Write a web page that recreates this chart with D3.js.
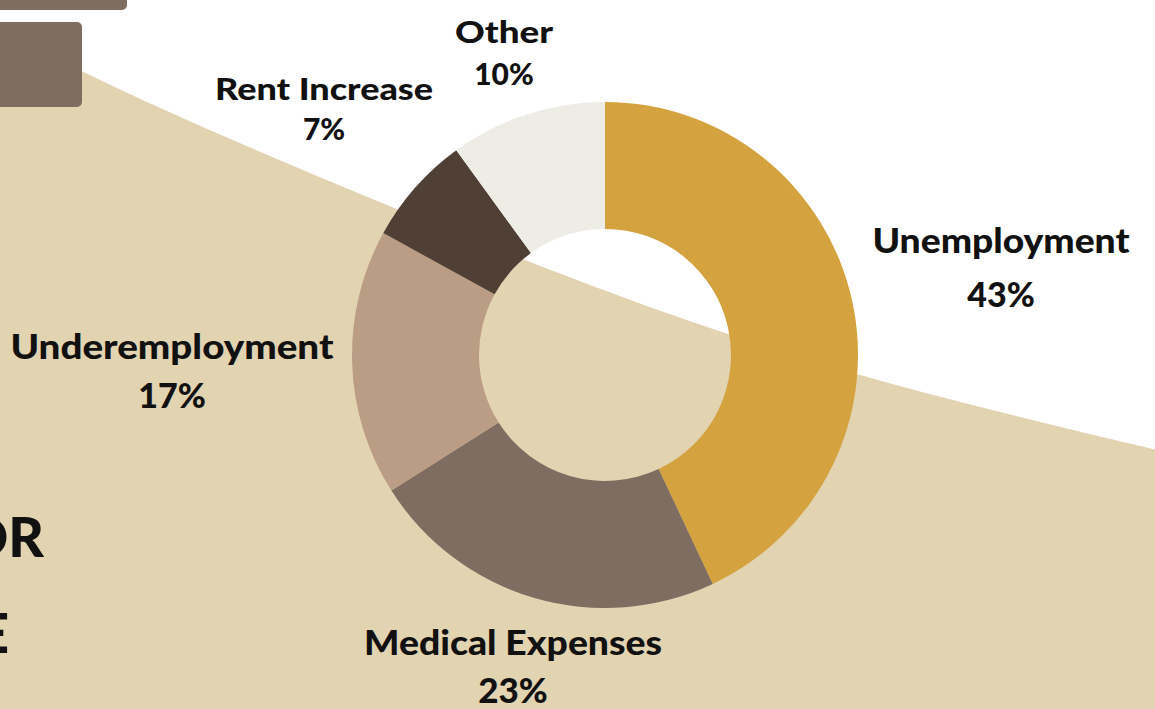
<!DOCTYPE html>
<html>
<head>
<meta charset="utf-8">
<script src="https://cdn.jsdelivr.net/npm/d3@7"></script>
<style>
  html, body { margin: 0; padding: 0; background: #fff; overflow: hidden; }
  svg { display: block; }
  .lbl { font-family: Lato, "Open Sans", sans-serif; font-weight: 900; fill: #111; }
</style>
</head>
<body>
<svg id="chart" width="1155" height="709"></svg>
<script>
(function () {
  "use strict";

  // chart data
  var causes   = ["Unemployment", "Medical Expenses", "Underemployment", "Rent Increase", "Other"];
  var shares   = [43, 23, 17, 7, 10];
  var colours  = ["#d4a23f", "#7e6d60", "#bb9c84", "#4f3f34", "#edece5"];

  // label placement (centre x, name baseline, value baseline, size, width)
  var labelX     = [1001, 513, 172, 324, 504];
  var labelY     = [253, 655, 359, 100, 43];
  var valueY     = [307, 703, 408, 140, 85];
  var labelSize  = [34, 35, 34, 30, 30];
  var labelWidth = [257, 298, 323, 218, 98];

  // backdrop curve
  var wavePts = [[-10, 24], [187, 120], [530, 262], [843, 370], [1165, 452]];

  var svg = d3.select("#chart");

  var edge = d3.line().curve(d3.curveNatural)(wavePts);
  svg.append("path")
    .attr("d", edge + "L1165,720L-10,720Z")
    .attr("fill", "#e2d3b1");

  // cut-off blocks on the left
  svg.append("rect").attr("x", -20).attr("y", -20).attr("width", 147).attr("height", 30)
    .attr("rx", 5).attr("fill", "#7e6d60");
  svg.append("rect").attr("x", -20).attr("y", 22).attr("width", 102).attr("height", 85)
    .attr("rx", 5).attr("fill", "#7e6d60");

  svg.append("text").attr("class", "lbl").attr("x", 44).attr("y", 557)
    .attr("text-anchor", "end").style("font-size", "55px").text("FOR");
  svg.append("text").attr("class", "lbl").attr("x", 9).attr("y", 653)
    .attr("text-anchor", "end").style("font-size", "55px").text("E");

  var cx = 605, cy = 355;
  var pie = d3.pie().sort(null).value(function (d) { return d; });
  var arc = d3.arc().innerRadius(126).outerRadius(253);

  svg.append("g").attr("transform", "translate(" + cx + "," + cy + ")")
    .selectAll("path")
    .data(pie(shares)).enter()
    .append("path")
    .attr("d", arc)
    .attr("fill", function (d, i) { return colours[i]; });

  var labels = svg.append("g").selectAll("g")
    .data(causes).enter().append("g");

  labels.append("text").attr("class", "lbl")
    .attr("x", function (d, i) { return labelX[i]; })
    .attr("y", function (d, i) { return labelY[i]; })
    .attr("text-anchor", "middle")
    .style("font-size", function (d, i) { return labelSize[i] + "px"; })
    .attr("textLength", function (d, i) { return labelWidth[i]; })
    .attr("lengthAdjust", "spacingAndGlyphs")
    .text(function (d) { return d; });

  labels.append("text").attr("class", "lbl")
    .attr("x", function (d, i) { return labelX[i]; })
    .attr("y", function (d, i) { return valueY[i]; })
    .attr("text-anchor", "middle")
    .style("font-size", function (d, i) { return labelSize[i] + "px"; })
    .text(function (d, i) { return shares[i] + "%"; });
}());
</script>
</body>
</html>
